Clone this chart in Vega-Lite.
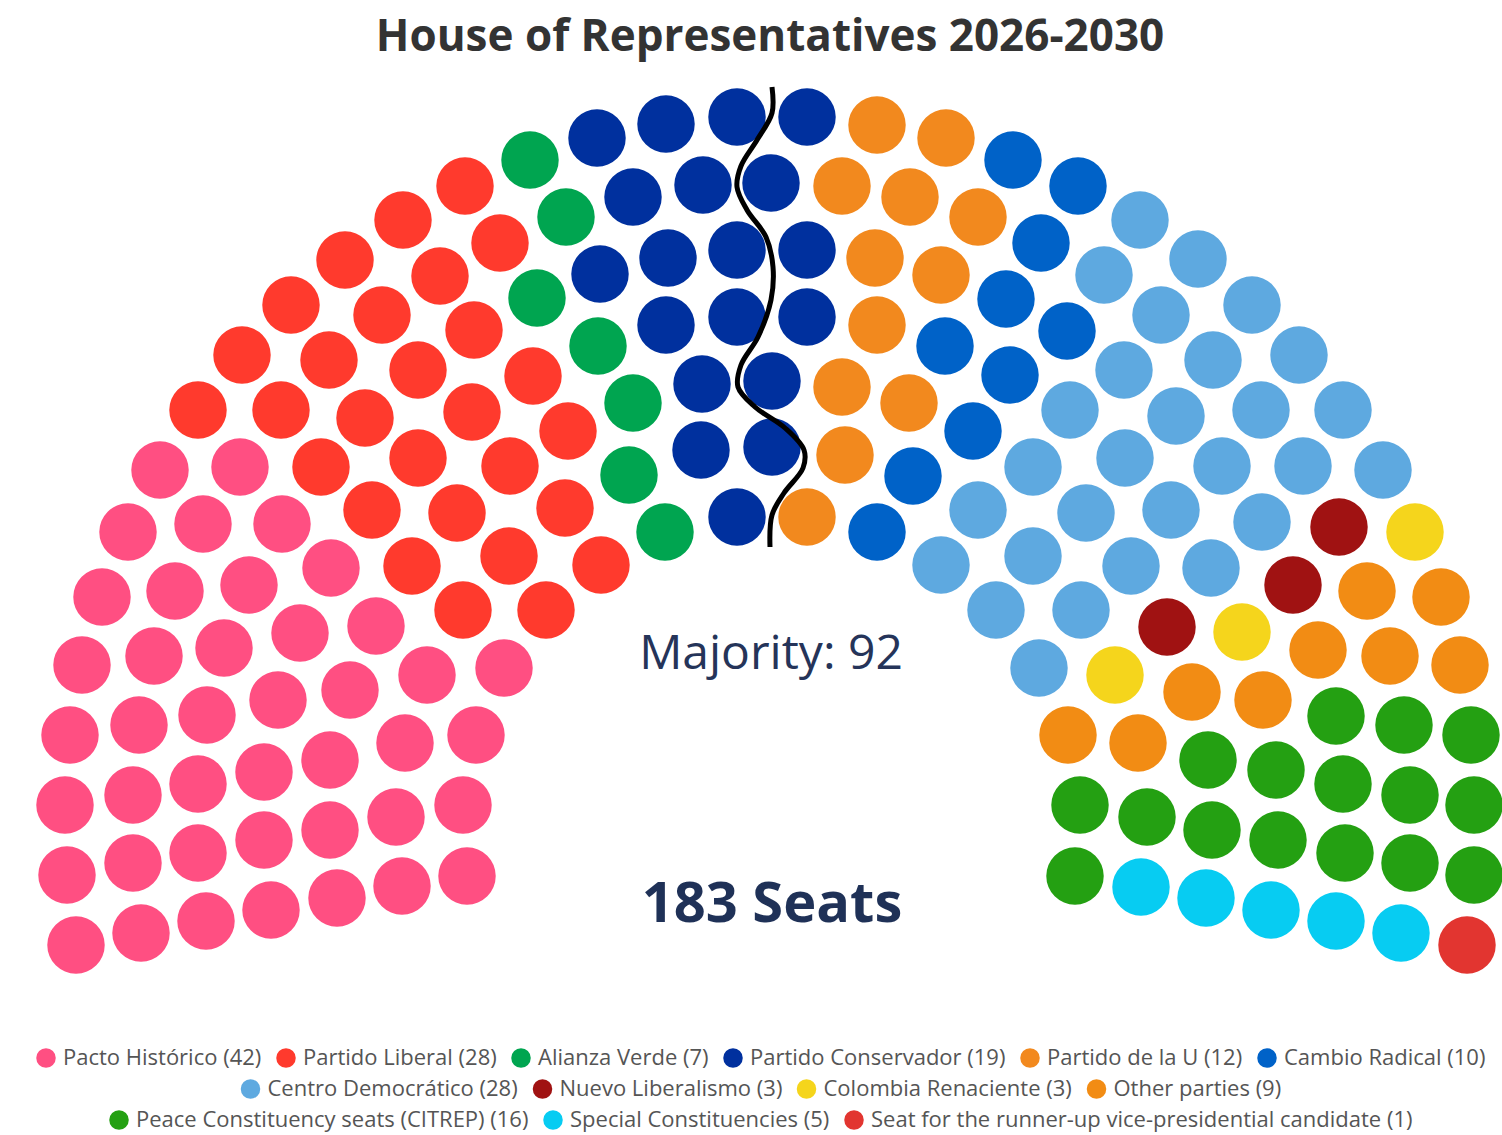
{
  "$schema": "https://vega.github.io/schema/vega-lite/v6.json",
  "autosize": {"type": "none"},
  "width": 1484,
  "height": 920,
  "padding": {"left": 18, "top": 80, "right": 0, "bottom": 135},
  "background": "white",
  "title": {"text": "House of Representatives 2026-2030", "fontSize": 44, "font": "Open Sans", "fontWeight": "bold", "color": "#333333", "anchor": "middle", "offset": 17, "dx": 10},
  "config": {
    "view": {"stroke": null},
    "legend": {"layout": {"bottom": {"anchor": "middle", "direction": "vertical", "center": true, "margin": 9}}}
  },
  "datasets": {
    "seats": [
      {"g":1,"party":"Pacto Histórico (42)","x":76,"y":945},{"g":1,"party":"Pacto Histórico (42)","x":141,"y":933},{"g":1,"party":"Pacto Histórico (42)","x":206,"y":921},{"g":1,"party":"Pacto Histórico (42)","x":271,"y":910},{"g":1,"party":"Pacto Histórico (42)","x":337,"y":898},{"g":1,"party":"Pacto Histórico (42)","x":402,"y":886},{"g":1,"party":"Pacto Histórico (42)","x":467,"y":876},
      {"g":1,"party":"Pacto Histórico (42)","x":67,"y":875},{"g":1,"party":"Pacto Histórico (42)","x":133,"y":863},{"g":1,"party":"Pacto Histórico (42)","x":198,"y":853},{"g":1,"party":"Pacto Histórico (42)","x":264,"y":840},{"g":1,"party":"Pacto Histórico (42)","x":330,"y":830},{"g":1,"party":"Pacto Histórico (42)","x":396,"y":817},{"g":1,"party":"Pacto Histórico (42)","x":463,"y":805},
      {"g":1,"party":"Pacto Histórico (42)","x":65,"y":805},{"g":1,"party":"Pacto Histórico (42)","x":133,"y":795},{"g":1,"party":"Pacto Histórico (42)","x":198,"y":784},{"g":1,"party":"Pacto Histórico (42)","x":264,"y":772},{"g":1,"party":"Pacto Histórico (42)","x":330,"y":760},{"g":1,"party":"Pacto Histórico (42)","x":405,"y":743},{"g":1,"party":"Pacto Histórico (42)","x":476,"y":735},
      {"g":1,"party":"Pacto Histórico (42)","x":70,"y":735},{"g":1,"party":"Pacto Histórico (42)","x":139,"y":725},{"g":1,"party":"Pacto Histórico (42)","x":207,"y":715},{"g":1,"party":"Pacto Histórico (42)","x":278,"y":700},{"g":1,"party":"Pacto Histórico (42)","x":350,"y":690},{"g":1,"party":"Pacto Histórico (42)","x":427,"y":675},{"g":1,"party":"Pacto Histórico (42)","x":504,"y":668},
      {"g":1,"party":"Pacto Histórico (42)","x":82,"y":665},{"g":1,"party":"Pacto Histórico (42)","x":154,"y":656},{"g":1,"party":"Pacto Histórico (42)","x":224,"y":648},{"g":1,"party":"Pacto Histórico (42)","x":300,"y":633},{"g":1,"party":"Pacto Histórico (42)","x":376,"y":626},
      {"g":1,"party":"Pacto Histórico (42)","x":102,"y":597},{"g":1,"party":"Pacto Histórico (42)","x":175,"y":591},{"g":1,"party":"Pacto Histórico (42)","x":249,"y":585},{"g":1,"party":"Pacto Histórico (42)","x":331,"y":568},
      {"g":1,"party":"Pacto Histórico (42)","x":128,"y":532},{"g":1,"party":"Pacto Histórico (42)","x":203,"y":524},{"g":1,"party":"Pacto Histórico (42)","x":282,"y":524},
      {"g":1,"party":"Pacto Histórico (42)","x":160,"y":470},{"g":1,"party":"Pacto Histórico (42)","x":240,"y":467},
      {"g":1,"party":"Partido Liberal (28)","x":465,"y":186},{"g":1,"party":"Partido Liberal (28)","x":403,"y":220},{"g":1,"party":"Partido Liberal (28)","x":500,"y":243},{"g":1,"party":"Partido Liberal (28)","x":345,"y":260},{"g":1,"party":"Partido Liberal (28)","x":440,"y":276},{"g":1,"party":"Partido Liberal (28)","x":291,"y":305},{"g":1,"party":"Partido Liberal (28)","x":382,"y":315},{"g":1,"party":"Partido Liberal (28)","x":474,"y":330},{"g":1,"party":"Partido Liberal (28)","x":242,"y":355},{"g":1,"party":"Partido Liberal (28)","x":329,"y":360},{"g":1,"party":"Partido Liberal (28)","x":418,"y":370},{"g":1,"party":"Partido Liberal (28)","x":533,"y":376},{"g":1,"party":"Partido Liberal (28)","x":198,"y":410},{"g":1,"party":"Partido Liberal (28)","x":281,"y":410},{"g":1,"party":"Partido Liberal (28)","x":365,"y":418},{"g":1,"party":"Partido Liberal (28)","x":472,"y":412},{"g":1,"party":"Partido Liberal (28)","x":568,"y":431},{"g":1,"party":"Partido Liberal (28)","x":321,"y":467},{"g":1,"party":"Partido Liberal (28)","x":418,"y":458},{"g":1,"party":"Partido Liberal (28)","x":510,"y":466},{"g":1,"party":"Partido Liberal (28)","x":372,"y":510},{"g":1,"party":"Partido Liberal (28)","x":457,"y":513},{"g":1,"party":"Partido Liberal (28)","x":565,"y":508},{"g":1,"party":"Partido Liberal (28)","x":412,"y":566},{"g":1,"party":"Partido Liberal (28)","x":509,"y":556},{"g":1,"party":"Partido Liberal (28)","x":601,"y":565},{"g":1,"party":"Partido Liberal (28)","x":463,"y":610},{"g":1,"party":"Partido Liberal (28)","x":546,"y":610},
      {"g":1,"party":"Alianza Verde (7)","x":530,"y":160},{"g":1,"party":"Alianza Verde (7)","x":566,"y":217},{"g":1,"party":"Alianza Verde (7)","x":537,"y":298},{"g":1,"party":"Alianza Verde (7)","x":598,"y":346},{"g":1,"party":"Alianza Verde (7)","x":633,"y":403},{"g":1,"party":"Alianza Verde (7)","x":629,"y":475},{"g":1,"party":"Alianza Verde (7)","x":665,"y":532},
      {"g":1,"party":"Partido Conservador (19)","x":597,"y":138},{"g":1,"party":"Partido Conservador (19)","x":666,"y":124},{"g":1,"party":"Partido Conservador (19)","x":737,"y":117},{"g":1,"party":"Partido Conservador (19)","x":807,"y":117},{"g":1,"party":"Partido Conservador (19)","x":633,"y":197},{"g":1,"party":"Partido Conservador (19)","x":703,"y":185},{"g":1,"party":"Partido Conservador (19)","x":771,"y":183},{"g":1,"party":"Partido Conservador (19)","x":600,"y":274},{"g":1,"party":"Partido Conservador (19)","x":668,"y":258},{"g":1,"party":"Partido Conservador (19)","x":737,"y":250},{"g":1,"party":"Partido Conservador (19)","x":807,"y":250},{"g":1,"party":"Partido Conservador (19)","x":666,"y":325},{"g":1,"party":"Partido Conservador (19)","x":737,"y":317},{"g":1,"party":"Partido Conservador (19)","x":807,"y":317},{"g":1,"party":"Partido Conservador (19)","x":702,"y":384},{"g":1,"party":"Partido Conservador (19)","x":772,"y":381},{"g":1,"party":"Partido Conservador (19)","x":701,"y":450},{"g":1,"party":"Partido Conservador (19)","x":772,"y":447},{"g":1,"party":"Partido Conservador (19)","x":737,"y":517},
      {"g":1,"party":"Partido de la U (12)","x":877,"y":125},{"g":1,"party":"Partido de la U (12)","x":946,"y":138},{"g":1,"party":"Partido de la U (12)","x":842,"y":186},{"g":1,"party":"Partido de la U (12)","x":910,"y":197},{"g":1,"party":"Partido de la U (12)","x":978,"y":217},{"g":1,"party":"Partido de la U (12)","x":875,"y":258},{"g":1,"party":"Partido de la U (12)","x":941,"y":275},{"g":1,"party":"Partido de la U (12)","x":877,"y":325},{"g":1,"party":"Partido de la U (12)","x":842,"y":387},{"g":1,"party":"Partido de la U (12)","x":909,"y":403},{"g":1,"party":"Partido de la U (12)","x":845,"y":455},{"g":1,"party":"Partido de la U (12)","x":807,"y":517},
      {"g":1,"party":"Cambio Radical (10)","x":1013,"y":160},{"g":1,"party":"Cambio Radical (10)","x":1078,"y":186},{"g":1,"party":"Cambio Radical (10)","x":1041,"y":243},{"g":1,"party":"Cambio Radical (10)","x":1006,"y":299},{"g":1,"party":"Cambio Radical (10)","x":1067,"y":331},{"g":1,"party":"Cambio Radical (10)","x":945,"y":346},{"g":1,"party":"Cambio Radical (10)","x":1010,"y":375},{"g":1,"party":"Cambio Radical (10)","x":973,"y":431},{"g":1,"party":"Cambio Radical (10)","x":913,"y":476},{"g":1,"party":"Cambio Radical (10)","x":877,"y":532},
      {"g":2,"party":"Centro Democrático (28)","x":1140,"y":220},{"g":2,"party":"Centro Democrático (28)","x":1198,"y":259},{"g":2,"party":"Centro Democrático (28)","x":1104,"y":275},{"g":2,"party":"Centro Democrático (28)","x":1161,"y":315},{"g":2,"party":"Centro Democrático (28)","x":1252,"y":305},{"g":2,"party":"Centro Democrático (28)","x":1213,"y":360},{"g":2,"party":"Centro Democrático (28)","x":1124,"y":370},{"g":2,"party":"Centro Democrático (28)","x":1299,"y":355},{"g":2,"party":"Centro Democrático (28)","x":1070,"y":410},{"g":2,"party":"Centro Democrático (28)","x":1176,"y":416},{"g":2,"party":"Centro Democrático (28)","x":1261,"y":410},{"g":2,"party":"Centro Democrático (28)","x":1343,"y":410},{"g":2,"party":"Centro Democrático (28)","x":1033,"y":467},{"g":2,"party":"Centro Democrático (28)","x":1125,"y":458},{"g":2,"party":"Centro Democrático (28)","x":1222,"y":466},{"g":2,"party":"Centro Democrático (28)","x":1303,"y":466},{"g":2,"party":"Centro Democrático (28)","x":1383,"y":470},{"g":2,"party":"Centro Democrático (28)","x":978,"y":510},{"g":2,"party":"Centro Democrático (28)","x":1086,"y":513},{"g":2,"party":"Centro Democrático (28)","x":1171,"y":510},{"g":2,"party":"Centro Democrático (28)","x":1262,"y":522},{"g":2,"party":"Centro Democrático (28)","x":941,"y":565},{"g":2,"party":"Centro Democrático (28)","x":1033,"y":556},{"g":2,"party":"Centro Democrático (28)","x":1131,"y":566},{"g":2,"party":"Centro Democrático (28)","x":1211,"y":568},{"g":2,"party":"Centro Democrático (28)","x":996,"y":610},{"g":2,"party":"Centro Democrático (28)","x":1081,"y":610},{"g":2,"party":"Centro Democrático (28)","x":1039,"y":668},
      {"g":2,"party":"Nuevo Liberalismo (3)","x":1339,"y":527},{"g":2,"party":"Nuevo Liberalismo (3)","x":1293,"y":585},{"g":2,"party":"Nuevo Liberalismo (3)","x":1167,"y":627},
      {"g":2,"party":"Colombia Renaciente (3)","x":1415,"y":532},{"g":2,"party":"Colombia Renaciente (3)","x":1242,"y":632},{"g":2,"party":"Colombia Renaciente (3)","x":1115,"y":675},
      {"g":2,"party":"Other parties (9)","x":1367,"y":591},{"g":2,"party":"Other parties (9)","x":1441,"y":597},{"g":2,"party":"Other parties (9)","x":1318,"y":650},{"g":2,"party":"Other parties (9)","x":1390,"y":656},{"g":2,"party":"Other parties (9)","x":1460,"y":665},{"g":2,"party":"Other parties (9)","x":1192,"y":692},{"g":2,"party":"Other parties (9)","x":1263,"y":700},{"g":2,"party":"Other parties (9)","x":1068,"y":735},{"g":2,"party":"Other parties (9)","x":1138,"y":743},
      {"g":3,"party":"Peace Constituency seats (CITREP) (16)","x":1336,"y":716},{"g":3,"party":"Peace Constituency seats (CITREP) (16)","x":1404,"y":725},{"g":3,"party":"Peace Constituency seats (CITREP) (16)","x":1471,"y":735},{"g":3,"party":"Peace Constituency seats (CITREP) (16)","x":1208,"y":760},{"g":3,"party":"Peace Constituency seats (CITREP) (16)","x":1276,"y":770},{"g":3,"party":"Peace Constituency seats (CITREP) (16)","x":1343,"y":784},{"g":3,"party":"Peace Constituency seats (CITREP) (16)","x":1410,"y":795},{"g":3,"party":"Peace Constituency seats (CITREP) (16)","x":1474,"y":805},{"g":3,"party":"Peace Constituency seats (CITREP) (16)","x":1080,"y":805},{"g":3,"party":"Peace Constituency seats (CITREP) (16)","x":1147,"y":817},{"g":3,"party":"Peace Constituency seats (CITREP) (16)","x":1212,"y":830},{"g":3,"party":"Peace Constituency seats (CITREP) (16)","x":1278,"y":840},{"g":3,"party":"Peace Constituency seats (CITREP) (16)","x":1345,"y":853},{"g":3,"party":"Peace Constituency seats (CITREP) (16)","x":1410,"y":863},{"g":3,"party":"Peace Constituency seats (CITREP) (16)","x":1474,"y":875},{"g":3,"party":"Peace Constituency seats (CITREP) (16)","x":1075,"y":876},
      {"g":3,"party":"Special Constituencies (5)","x":1141,"y":887},{"g":3,"party":"Special Constituencies (5)","x":1206,"y":898},{"g":3,"party":"Special Constituencies (5)","x":1271,"y":910},{"g":3,"party":"Special Constituencies (5)","x":1336,"y":921},{"g":3,"party":"Special Constituencies (5)","x":1401,"y":933},
      {"g":3,"party":"Seat for the runner-up vice-presidential candidate (1)","x":1467,"y":945}
    ],
    "divider": [
      {"i":1,"x":772,"y":87},{"i":2,"x":772,"y":113},{"i":3,"x":757,"y":140},{"i":4,"x":741,"y":166},{"i":5,"x":737,"y":187},{"i":6,"x":747,"y":210},{"i":7,"x":766,"y":237},{"i":8,"x":773,"y":267},{"i":9,"x":771,"y":300},{"i":10,"x":758,"y":337},{"i":11,"x":741,"y":365},{"i":12,"x":738,"y":387},{"i":13,"x":755,"y":407},{"i":14,"x":785,"y":428},{"i":15,"x":804,"y":450},{"i":16,"x":803,"y":468},{"i":17,"x":784,"y":493},{"i":18,"x":772,"y":515},{"i":19,"x":770,"y":547}
    ],
    "labels": [
      {"label":"Majority: 92","x":771,"y":669,"kind":"majority"},
      {"label":"183 Seats","x":772,"y":922,"kind":"total"}
    ]
  },
  "resolve": {"scale": {"color": "independent"}},
  "layer": [
    {
      "data": {"name": "seats"},
      "transform": [{"filter": "datum.g == 1"}],
      "mark": {"type": "circle", "size": 3300, "opacity": 1},
      "encoding": {
        "x": {"field": "x", "type": "quantitative", "scale": {"domain": [18, 1502], "nice": false, "zero": false}, "axis": null},
        "y": {"field": "y", "type": "quantitative", "scale": {"domain": [80, 1000], "nice": false, "zero": false, "reverse": true}, "axis": null},
        "color": {"field": "party", "type": "nominal",
          "scale": {"domain": ["Pacto Histórico (42)", "Partido Liberal (28)", "Alianza Verde (7)", "Partido Conservador (19)", "Partido de la U (12)", "Cambio Radical (10)"],
                    "range": ["#FF4F82", "#FF3A2D", "#00A550", "#00309E", "#F2891E", "#0062C8"]},
          "legend": {"orient": "bottom", "direction": "horizontal", "title": null, "offset": 47, "symbolType": "circle", "symbolSize": 380, "symbolStrokeWidth": 0, "labelFontSize": 22, "labelFont": "Open Sans", "labelColor": "#555555", "columnPadding": 13, "labelOffset": 6, "labelLimit": 0}
        }
      }
    },
    {
      "data": {"name": "seats"},
      "transform": [{"filter": "datum.g == 2"}],
      "mark": {"type": "circle", "size": 3300, "opacity": 1},
      "encoding": {
        "x": {"field": "x", "type": "quantitative"},
        "y": {"field": "y", "type": "quantitative"},
        "color": {"field": "party", "type": "nominal",
          "scale": {"domain": ["Centro Democrático (28)", "Nuevo Liberalismo (3)", "Colombia Renaciente (3)", "Other parties (9)"],
                    "range": ["#5EA9E0", "#A01212", "#F5D51C", "#F28C14"]},
          "legend": {"orient": "bottom", "direction": "horizontal", "title": null, "offset": 47, "symbolType": "circle", "symbolSize": 380, "symbolStrokeWidth": 0, "labelFontSize": 22, "labelFont": "Open Sans", "labelColor": "#555555", "columnPadding": 13, "labelOffset": 6, "labelLimit": 0}
        }
      }
    },
    {
      "data": {"name": "seats"},
      "transform": [{"filter": "datum.g == 3"}],
      "mark": {"type": "circle", "size": 3300, "opacity": 1},
      "encoding": {
        "x": {"field": "x", "type": "quantitative"},
        "y": {"field": "y", "type": "quantitative"},
        "color": {"field": "party", "type": "nominal",
          "scale": {"domain": ["Peace Constituency seats (CITREP) (16)", "Special Constituencies (5)", "Seat for the runner-up vice-presidential candidate (1)"],
                    "range": ["#24A012", "#07CCF2", "#E23530"]},
          "legend": {"orient": "bottom", "direction": "horizontal", "title": null, "offset": 47, "symbolType": "circle", "symbolSize": 380, "symbolStrokeWidth": 0, "labelFontSize": 22, "labelFont": "Open Sans", "labelColor": "#555555", "columnPadding": 13, "labelOffset": 6, "labelLimit": 0}
        }
      }
    },
    {
      "data": {"name": "divider"},
      "mark": {"type": "line", "color": "#000000", "strokeWidth": 5, "interpolate": "catmull-rom", "strokeCap": "butt"},
      "encoding": {
        "x": {"field": "x", "type": "quantitative"},
        "y": {"field": "y", "type": "quantitative"},
        "order": {"field": "i", "type": "quantitative"}
      }
    },
    {
      "data": {"name": "labels"},
      "transform": [{"filter": "datum.kind == 'majority'"}],
      "mark": {"type": "text", "font": "Open Sans", "fontSize": 48, "color": "#253459", "baseline": "alphabetic", "align": "center"},
      "encoding": {
        "x": {"field": "x", "type": "quantitative"},
        "y": {"field": "y", "type": "quantitative"},
        "text": {"field": "label"}
      }
    },
    {
      "data": {"name": "labels"},
      "transform": [{"filter": "datum.kind == 'total'"}],
      "mark": {"type": "text", "font": "Open Sans", "fontSize": 56, "fontWeight": "bold", "color": "#1F3157", "baseline": "alphabetic", "align": "center"},
      "encoding": {
        "x": {"field": "x", "type": "quantitative"},
        "y": {"field": "y", "type": "quantitative"},
        "text": {"field": "label"}
      }
    }
  ]
}
